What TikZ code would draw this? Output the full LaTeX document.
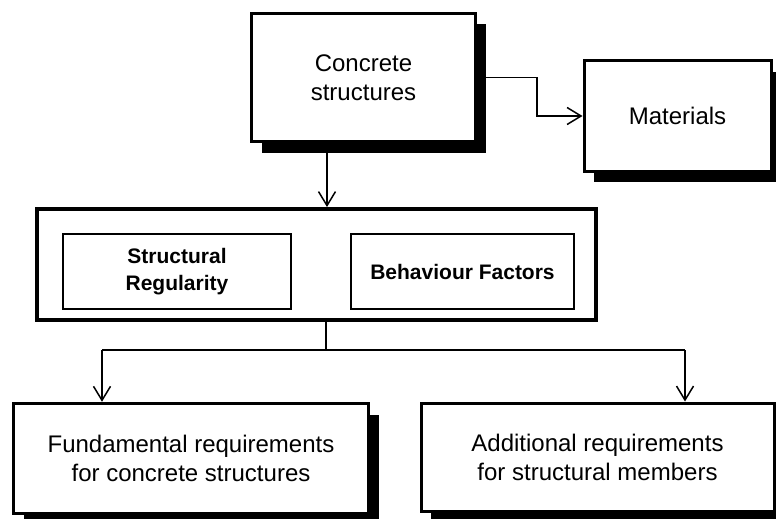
\documentclass[tikz,border=0pt]{standalone}
\usepackage{fontspec}
\setmainfont{Liberation Sans}
\usetikzlibrary{arrows.meta,shadows}

\tikzset{
  box/.style={draw=black, fill=white, rectangle, inner sep=0pt, align=center,
    font=\fontsize{24}{29}\selectfont},
  shbox/.style={box, drop shadow={shadow xshift=10pt, shadow yshift=-11pt,
    fill=black, opacity=1}},
  inbox/.style={draw=black, fill=white, rectangle, inner sep=0pt, align=center,
    line width=2pt, font=\fontsize{21}{27}\selectfont\bfseries},
  conn/.style={line width=1.5pt},
  arr/.style={conn, -{Straight Barb[length=14pt, width=17pt, line width=1.5pt]}}
}

\begin{document}
\begin{tikzpicture}[x=1pt, y=-1pt]
  \useasboundingbox (0,0) rectangle (776,519);
  \fill[white] (0,0) rectangle (776,519);
  \clip (0,0) rectangle (776,519);

  % top level
  \node[shbox, line width=3pt, minimum width=224pt, minimum height=128pt]
    (conc) at (363.5,77.5) {Concrete\\structures};
  \node[shbox, line width=3pt, minimum width=187pt, minimum height=110pt]
    (mat) at (677.5,116) {Materials};

  % grouping frame with its two parts
  \node[draw=black, fill=white, line width=4pt, minimum width=559pt,
    minimum height=111pt, inner sep=0pt] (mid) at (316.5,264.5) {};
  \node[inbox, minimum width=228pt, minimum height=75pt]
    (sr) at (177,271.5) {Structural\\Regularity};
  \node[inbox, minimum width=223pt, minimum height=75pt]
    (bf) at (462.5,271.5) {Behaviour Factors};

  % requirements
  \node[shbox, line width=3.5pt, minimum width=355pt, minimum height=110pt]
    (fund) at (191,458.5) {Fundamental requirements\\for concrete structures};
  \node[shbox, line width=3pt, minimum width=353pt, minimum height=108pt]
    (add) at (597.5,457) {Additional requirements\\for structural members};

  % connectors
  \draw[arr] (conc.east) -- ++(60,0) |- (mat.west);
  \coordinate (cdown) at (327,0);
  \draw[arr] (conc.south -| cdown) -- (mid.north -| cdown);

  \coordinate (split) at (326,350);
  \coordinate (jl) at (102,350);
  \coordinate (jr) at (685,350);
  \draw[conn] (mid.south -| split) -- (split);
  \draw[conn] (jl) -- (jr);
  \draw[arr] (jl) -- (jl |- fund.north);
  \draw[arr] (jr) -- (jr |- add.north);
\end{tikzpicture}
\end{document}
